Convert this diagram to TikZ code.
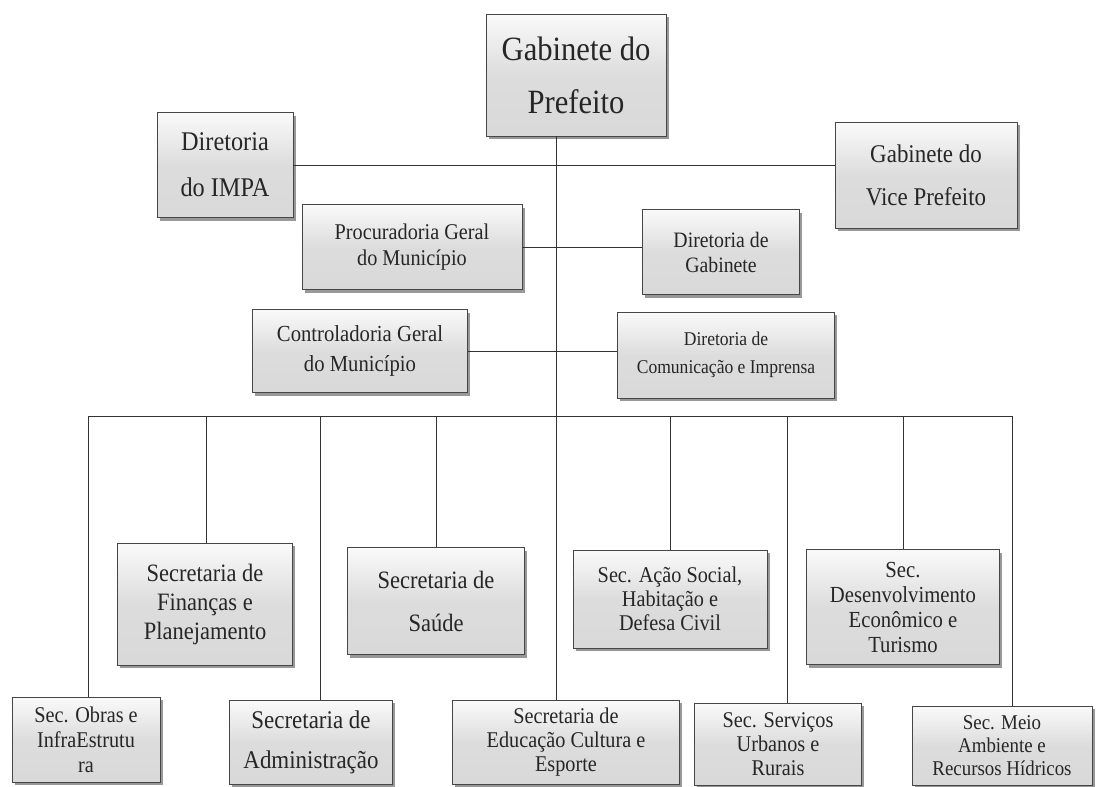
\documentclass[tikz,border=0pt]{standalone}
\usepackage{fontspec}
\setmainfont{Liberation Serif}[FakeStretch=0.9]
\usetikzlibrary{shadows}
\begin{document}
\begin{tikzpicture}[x=1pt,y=-1pt,
  orgbox/.style={draw=gray!55!black, line width=0.6pt,
    top color=gray!4, bottom color=gray!30, middle color=gray!27,
    drop shadow={shadow xshift=2.5pt, shadow yshift=-3pt, fill=gray!40!black},
    align=center, inner sep=0pt, text=black!85},
  conn/.style={draw=black!80, line width=0.9pt},
  fs/.style 2 args={font=\fontsize{#1}{#2}\selectfont}]
\useasboundingbox[fill=white] (0,0) rectangle (1103,787);

% top level
\node[orgbox, minimum width=180, minimum height=122, fs={34}{53}] (P) at (576,75) {Gabinete do\\Prefeito};
\node[orgbox, minimum width=136, minimum height=105, fs={27}{46}] (IMPA) at (225,165) {Diretoria\\do IMPA};
\node[orgbox, minimum width=182, minimum height=106, fs={25.5}{43}] (Vice) at (926,175) {Gabinete do\\Vice Prefeito};
\node[orgbox, minimum width=220, minimum height=85, fs={22.5}{26}] (Proc) at (412,247) {Procuradoria Geral\\do Município};
\node[orgbox, minimum width=157, minimum height=85, fs={22}{25}] (Gab) at (721,252) {Diretoria de\\Gabinete};
\node[orgbox, minimum width=215, minimum height=83, fs={23}{30}] (Contr) at (360,351) {Controladoria Geral\\do Município};
\node[orgbox, minimum width=217, minimum height=86, fs={19.5}{28}] (Com) at (726,355) {Diretoria de\\Comunicação e Imprensa};

% secretariats, upper row
\node[orgbox, minimum width=175, minimum height=122, fs={25}{29}] (Fin) at (205,604) {Secretaria de\\Finanças e\\Planejamento};
\node[orgbox, minimum width=177, minimum height=107, fs={25}{43}] (Sau) at (436,601) {Secretaria de\\Saúde};
\node[orgbox, minimum width=194, minimum height=98, fs={22.5}{24}] (Acao) at (670,599) {Sec. Ação Social,\\Habitação e\\Defesa Civil};
\node[orgbox, minimum width=193, minimum height=115, fs={23}{25}] (Des) at (903,607) {Sec.\\Desenvolvimento\\Econômico e\\Turismo};

% secretariats, lower row
\node[orgbox, minimum width=148, minimum height=85, fs={22.5}{25}] (Obr) at (86,739.5) {Sec. Obras e\\InfraEstrutu\\ra};
\node[orgbox, minimum width=163, minimum height=84, fs={25.5}{40}] (Adm) at (311,742) {Secretaria de\\Administração};
\node[orgbox, minimum width=227, minimum height=84, fs={22.5}{24}] (Edu) at (566,742) {Secretaria de\\Educação Cultura e\\Esporte};
\node[orgbox, minimum width=167, minimum height=82, fs={22.5}{24}] (Serv) at (778,744) {Sec. Serviços\\Urbanos e\\Rurais};
\node[orgbox, minimum width=180, minimum height=79, fs={21}{23}] (Meio) at (1002,745.5) {Sec. Meio\\Ambiente e\\Recursos Hídricos};

% spine and bus
\coordinate (spine) at (556,0);
\coordinate (jObr) at (88,416);
\coordinate (jFin) at (206,416);
\coordinate (jAdm) at (320,416);
\coordinate (jSau) at (436,416);
\coordinate (jAcao) at (670,416);
\coordinate (jServ) at (787,416);
\coordinate (jDes) at (903,416);
\coordinate (jMeio) at (1012,416);

\draw[conn] (P.south -| spine) -- (Edu.north -| spine);
\draw[conn] (IMPA.east) -- (IMPA.east -| Vice.west);
\draw[conn] (Proc.east) -- (Proc.east -| Gab.west);
\draw[conn] (Contr.east) -- (Contr.east -| Com.west);
\draw[conn] (jObr) -- (jMeio);
\draw[conn] (jObr) -- (Obr.north -| jObr);
\draw[conn] (jFin) -- (Fin.north -| jFin);
\draw[conn] (jAdm) -- (Adm.north -| jAdm);
\draw[conn] (jSau) -- (Sau.north -| jSau);
\draw[conn] (jAcao) -- (Acao.north -| jAcao);
\draw[conn] (jServ) -- (Serv.north -| jServ);
\draw[conn] (jDes) -- (Des.north -| jDes);
\draw[conn] (jMeio) -- (Meio.north -| jMeio);
\end{tikzpicture}
\end{document}
